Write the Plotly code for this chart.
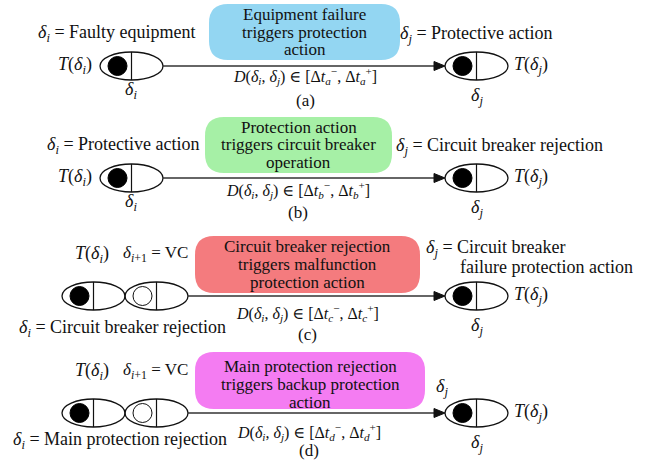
import plotly.graph_objects as go

# ---------------- content ----------------
panel_tags = ["(a)", "(b)", "(c)", "(d)"]
box_texts = [
    ["Equipment failure", "triggers protection", "action"],
    ["Protection action", "triggers circuit breaker", "operation"],
    ["Circuit breaker rejection", "triggers malfunction", "protection action"],
    ["Main protection rejection", "triggers backup protection", "action"],
]
interval_subs = ["a", "b", "c", "d"]
source_labels = ["Faulty equipment", "Protective action",
                 "Circuit breaker rejection", "Main protection rejection"]
target_labels = [["Protective action"], ["Circuit breaker rejection"],
                 ["Circuit breaker", "failure protection action"], []]
has_virtual = [False, False, True, True]
virtual_label = "VC"

# ---------------- styling / layout ----------------
box_colors = ["#93D6F2", "#A6F0A6", "#F47B7E", "#F47CF2"]
W, H = 655, 469
FONT = '"Liberation Serif", "Times New Roman", Times, "DejaVu Serif"'
INK = "#111111"
FS = 18
BOX_FS = 17

# per-panel geometry (pixels in a top-down coordinate system)
panel_cy = [66, 178, 296, 413]
box_rect = [(209, 4, 400, 60), (205, 117, 392, 173), (195, 236, 420, 293), (195, 352, 425, 409)]
box_line_y = [[14.5, 32, 49.5], [127, 144.5, 162], [246.5, 264.5, 282.5], [366, 384, 402]]
d_pos = [(305, 76), (298, 190), (307, 313), (309, 432)]
tag_pos = [(305, 100), (298, 212), (307, 334), (309, 450)]

shapes = []
ann = []

def text(x, y, s, size=FS, xanchor="center", color=INK):
    ann.append(dict(x=x, y=y, text=s, showarrow=False, xref="x", yref="y",
                    xanchor=xanchor, yanchor="middle",
                    font=dict(family=FONT, size=size, color=color)))

def rrect(x0, y0, x1, y1, r, fill):
    p = (f"M {x0+r},{y0} L {x1-r},{y0} Q {x1},{y0} {x1},{y0+r} "
         f"L {x1},{y1-r} Q {x1},{y1} {x1-r},{y1} L {x0+r},{y1} "
         f"Q {x0},{y1} {x0},{y1-r} L {x0},{y0+r} Q {x0},{y0} {x0+r},{y0} Z")
    shapes.append(dict(type="path", path=p, xref="x", yref="y",
                       fillcolor=fill, line=dict(width=0), layer="below"))

def node(x0, cy, filled=True, hh=14, w=63):
    x1 = x0 + w
    shapes.append(dict(type="circle", xref="x", yref="y", x0=x0, x1=x1,
                       y0=cy - hh, y1=cy + hh, line=dict(color="#111", width=1.3),
                       fillcolor="rgba(0,0,0,0)"))
    mx = (x0 + x1) / 2
    shapes.append(dict(type="line", xref="x", yref="y", x0=mx, x1=mx,
                       y0=cy - hh, y1=cy + hh, line=dict(color="#111", width=1.2)))
    cx = x0 + 17.5
    r = 9.5
    if filled:
        shapes.append(dict(type="circle", xref="x", yref="y", x0=cx - r, x1=cx + r,
                           y0=cy - r, y1=cy + r, line=dict(color="#000", width=1),
                           fillcolor="#000"))
    else:
        shapes.append(dict(type="circle", xref="x", yref="y", x0=cx - r, x1=cx + r,
                           y0=cy - r, y1=cy + r, line=dict(color="#111", width=1),
                           fillcolor="rgba(0,0,0,0)"))

di = "<i>δ</i><sub><i>i</i></sub>"
dj = "<i>δ</i><sub><i>j</i></sub>"
di1 = "<i>δ</i><sub><i>i</i>+1</sub>"

for k in range(4):
    cy = panel_cy[k]
    x0, y0, x1, y1 = box_rect[k]
    rrect(x0, y0, x1, y1, 19, box_colors[k])
    bx = (x0 + x1) / 2
    for line, ly in zip(box_texts[k], box_line_y[k]):
        text(bx, ly, line, size=BOX_FS)

    # source node(s)
    if has_virtual[k]:
        node(62, cy, True)
        node(125, cy, False)
        start = 188
        text(92, cy - 42, f"<i>T</i>({di})")
        text(155, cy - 42, f"{di1} = {virtual_label}", size=17)
        text(122 if k == 2 else 120, cy + 32 if k == 2 else cy + 27,
             f"{di} = {source_labels[k]}")
    else:
        node(100, cy, True)
        start = 163
        text(75, cy - 1, f"<i>T</i>({di})")
        text(131, cy + 24, di)
        text(117 if k == 0 else 123, cy - 33, f"{di} = {source_labels[k]}")

    # arrow
    tip = 445
    shapes.append(dict(type="line", xref="x", yref="y", x0=start, x1=tip - 8,
                       y0=cy, y1=cy, line=dict(color="#333", width=1.5)))
    shapes.append(dict(type="path", xref="x", yref="y",
                       path=f"M {tip},{cy} L {tip-11},{cy-4.5} L {tip-11},{cy+4.5} Z",
                       fillcolor="#111", line=dict(color="#111", width=1)))

    # target node
    node(445, cy, True)
    text(531, cy - 1, f"<i>T</i>({dj})")
    text(477, cy + 30, dj)
    tl = target_labels[k]
    if len(tl) == 1:
        text(476 if k == 0 else 499, cy - 32, f"{dj} = {tl[0]}")
    elif len(tl) == 2:
        text(424, cy - 48, f"{dj} = {tl[0]}", xanchor="left")
        text(458, cy - 29, tl[1], xanchor="left")
    else:
        text(442, cy - 26, dj)

    s = interval_subs[k]
    dx, dy = d_pos[k]
    text(dx, dy, f"<i>D</i>({di}, {dj}) ∈ [Δ<i>t</i><sub><i>{s}</i></sub><sup>−</sup>, "
                 f"Δ<i>t</i><sub><i>{s}</i></sub><sup>+</sup>]", size=16)
    tx, ty = tag_pos[k]
    text(tx, ty, panel_tags[k], size=17)

fig = go.Figure()
fig.update_layout(
    width=W, height=H, margin=dict(l=0, r=0, t=0, b=0),
    paper_bgcolor="white", plot_bgcolor="white",
    font=dict(family=FONT),
    xaxis=dict(range=[0, W], visible=False, fixedrange=True),
    yaxis=dict(range=[H, 0], visible=False, fixedrange=True),
    shapes=shapes, annotations=ann, showlegend=False,
)
fig.write_html("out.html", config={"displayModeBar": False},
               post_script="document.body.style.margin='0';")
